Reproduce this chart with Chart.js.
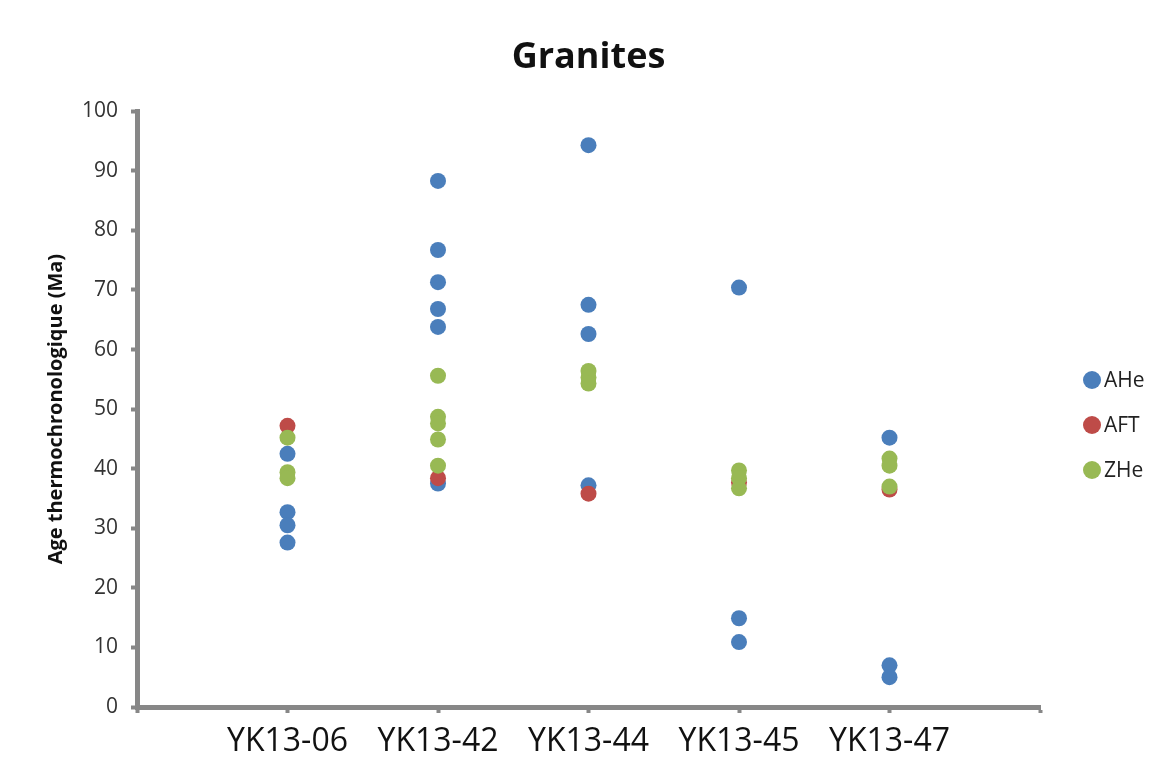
<!DOCTYPE html>
<html>
<head>
<meta charset="utf-8">
<script src="https://cdn.jsdelivr.net/npm/chart.js@4.4.1/dist/chart.umd.min.js"></script>
<style>
  html, body { margin: 0; padding: 0; background: #fff; }
  #wrap { width: 1167px; height: 765px; }
</style>
</head>
<body>
<div id="wrap"><canvas id="chart" width="1167" height="765"></canvas></div>
<script>
// echantillons (axe x)
const samples = ['YK13-06', 'YK13-42', 'YK13-44', 'YK13-45', 'YK13-47'];

// ages (Ma) par echantillon
const aheAges = [[42.5, 32.7, 30.5, 27.6], [88.3, 76.7, 71.3, 66.8, 63.8, 37.5], [94.3, 67.5, 62.6, 37.2], [70.4, 14.9, 10.9], [45.2, 7.0, 5.0]];
const aftAges = [[47.2], [38.4], [35.8], [37.7], [36.5]];
const zheAges = [[45.2, 39.4, 38.4], [55.6, 48.7, 47.6, 44.9, 40.5], [56.4, 55.3, 54.3], [39.7, 38.4, 36.7], [41.7, 40.5, 37.0]];

const yTicks = [0, 10, 20, 30, 40, 50, 60, 70, 80, 90, 100];

const seriesNames = ['AHe', 'AFT', 'ZHe'];
const seriesColors = ['#4a7ebb', '#be4b48', '#98b954'];

function toPoints(ages) {
    const pts = [];
    ages.forEach((list, i) => {
        list.forEach(v => pts.push({ x: i + 1, y: v }));
    });
    return pts;
}

const axisGray = '#878787';
const fontFam = '"Open Sans", "DejaVu Sans", sans-serif';

// legende dessinee a la main (position fixe comme dans Excel)
const legendPlugin = {
    id: 'sideLegend',
    afterDraw(chart) {
        const ctx = chart.ctx;
        ctx.save();
        ctx.font = '21px ' + fontFam;
        ctx.textBaseline = 'middle';
        seriesNames.forEach((name, i) => {
            const y = 380 + i * 45;
            ctx.fillStyle = seriesColors[i];
            ctx.beginPath();
            ctx.arc(1092, y, 9, 0, Math.PI * 2);
            ctx.fill();
            ctx.fillStyle = '#222';
            ctx.fillText(name, 1104, y + 1);
        });
        ctx.restore();
    }
};

new Chart(document.getElementById('chart'), {
    type: 'scatter',
    data: {
        datasets: [
            { label: 'AHe', data: toPoints(aheAges), backgroundColor: seriesColors[0], order: 3 },
            { label: 'AFT', data: toPoints(aftAges), backgroundColor: seriesColors[1], order: 2 },
            { label: 'ZHe', data: toPoints(zheAges), backgroundColor: seriesColors[2], order: 1 }
        ]
    },
    options: {
        responsive: false,
        animation: false,
        layout: { padding: { left: 0, right: 127, top: 0, bottom: 0 } },
        elements: { point: { radius: 8, borderWidth: 0, hoverRadius: 8 } },
        plugins: {
            legend: { display: false },
            tooltip: { enabled: false },
            title: {
                display: true,
                fullSize: false,
                text: 'Granites',
                color: '#111',
                font: { family: fontFam, size: 36, weight: 'bold' },
                padding: { top: 36, bottom: 32 }
            }
        },
        scales: {
            x: {
                type: 'linear',
                min: 0,
                max: 6,
                afterFit: s => { s.height = 58; },
                afterBuildTicks: s => { s.ticks = [0, 1, 2, 3, 4, 5, 6].map(v => ({ value: v })); },
                border: { color: axisGray, width: 5 },
                grid: { drawOnChartArea: false, drawTicks: true, tickLength: 6, tickWidth: 4, tickColor: axisGray },
                ticks: {
                    color: '#111',
                    padding: 10,
                    font: { family: fontFam, size: 32 },
                    callback: v => samples[v - 1] || ''
                }
            },
            y: {
                min: 0,
                max: 100,
                afterFit: s => { s.width = 137; },
                afterBuildTicks: s => { s.ticks = yTicks.map(v => ({ value: v })); },
                border: { color: axisGray, width: 5 },
                grid: { drawOnChartArea: false, drawTicks: true, tickLength: 6, tickWidth: 4, tickColor: axisGray },
                ticks: {
                    color: '#333',
                    padding: 13,
                    font: { family: fontFam, size: 21 }
                },
                title: {
                    display: true,
                    text: 'Age thermochronologique (Ma)',
                    color: '#111',
                    font: { family: fontFam, size: 20, weight: 'bold' },
                    padding: { top: 44, bottom: 0 }
                }
            }
        }
    },
    plugins: [legendPlugin]
});
</script>
</body>
</html>
